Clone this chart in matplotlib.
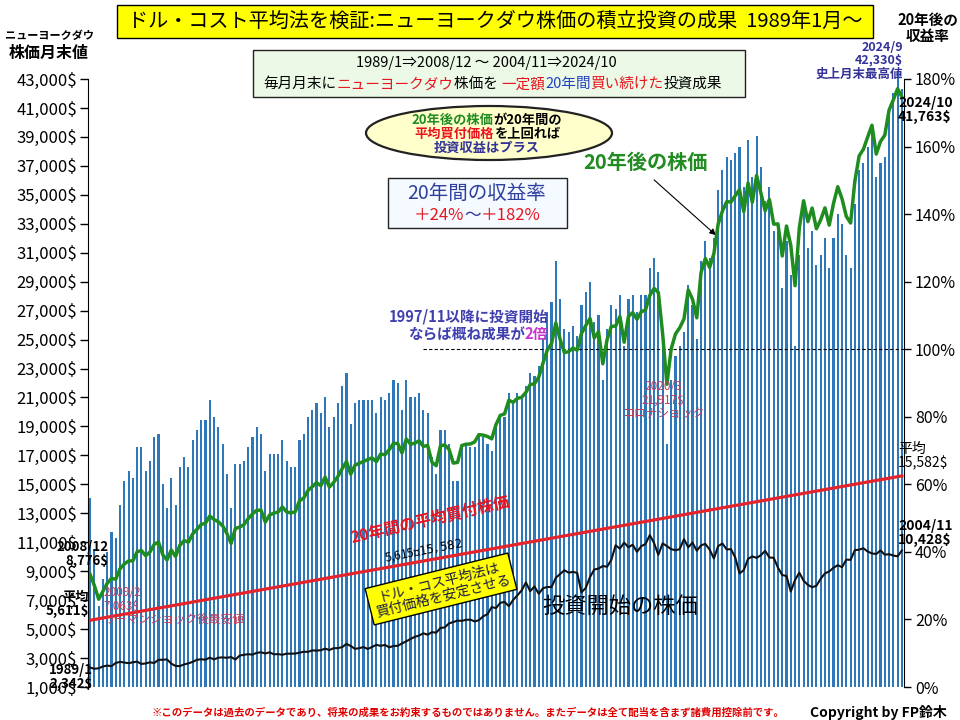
import matplotlib
matplotlib.use("Agg")
import matplotlib.pyplot as plt
from matplotlib.patches import Rectangle, Ellipse, FancyArrowPatch
import numpy as np

plt.rcParams['font.family'] = ['Noto Sans CJK JP', 'DejaVu Sans']

# ---- data: 20年後の株価 (2008/12 ~ 2024/10 月末値) ----
final_price = [8776,
    8001, 7063, 7609, 8168, 8500, 8447, 9172, 9496, 9712, 9713, 10345, 10428,
    10067, 10325, 10857, 11009, 10137, 9774, 10466, 10015, 10788, 11118, 11006, 11578,
    11892, 12226, 12320, 12811, 12570, 12414, 12143, 11614, 10913, 11955, 12046, 12218,
    12633, 12952, 13212, 13214, 12393, 12880, 13009, 13091, 13437, 13096, 13026, 13104,
    13861, 14054, 14579, 14840, 15116, 14910, 15500, 14810, 15130, 15546, 16086, 16577,
    15699, 16322, 16458, 16581, 16717, 16827, 16563, 17098, 17043, 17391, 17828, 17823,
    17165, 18133, 17776, 17841, 18011, 17620, 17690, 16528, 16285, 17664, 17720, 17425,
    16466, 16517, 17685, 17774, 17787, 17930, 18432, 18401, 18308, 18142, 19124, 19763,
    19864, 20812, 20663, 20941, 21009, 21350, 21891, 21948, 22405, 23377, 24272, 24719,
    26149, 25029, 24103, 24163, 24416, 24271, 25415, 25965, 26458, 25116, 25538, 23327,
    24999, 25916, 25929, 26593, 24815, 26600, 26864, 26403, 26917, 27046, 28051, 28538,
    28256, 25409, 21917, 24346, 25383, 25813, 26428, 28430, 27782, 26502, 29639, 30606,
    29983, 30932, 32982, 33875, 34529, 34503, 34935, 35361, 33844, 35820, 34484, 36338,
    35132, 33893, 34678, 32977, 32990, 30775, 32845, 31510, 28726, 32733, 34590, 33147,
    34086, 32657, 33274, 34098, 32908, 34408, 35560, 34722, 33508, 33053, 35951, 37690,
    38150, 38996, 39807, 37816, 38686, 39119, 40843, 41563, 42330, 41763]

# ---- 投資開始の株価 (1989/1 ~ 2004/11 月末値) ----
start_price = [
    2342, 2258, 2293, 2419, 2480, 2440, 2661, 2737, 2693, 2645, 2706, 2753,
    2591, 2627, 2707, 2657, 2877, 2881, 2905, 2614, 2453, 2442, 2560, 2634,
    2736, 2882, 2914, 2888, 3028, 2907, 3025, 3044, 3017, 3069, 2895, 3169,
    3224, 3268, 3236, 3359, 3397, 3319, 3394, 3257, 3272, 3226, 3306, 3301,
    3310, 3370, 3435, 3428, 3527, 3516, 3540, 3651, 3555, 3681, 3684, 3754,
    3978, 3832, 3636, 3682, 3758, 3625, 3765, 3913, 3843, 3908, 3739, 3834,
    3844, 4011, 4158, 4321, 4465, 4556, 4709, 4611, 4789, 4756, 5075, 5117,
    5395, 5486, 5588, 5569, 5643, 5655, 5529, 5616, 5882, 6029, 6522, 6448,
    6813, 6878, 6584, 7009, 7331, 7673, 8223, 7622, 7945, 7442, 7823, 7908,
    7907, 8546, 8800, 9063, 8900, 8952, 8883, 7539, 7843, 8592, 9117, 9181,
    9359, 9307, 9786, 10789, 10560, 10971, 10655, 10829, 10337, 10729, 10878, 11497,
    10941, 10128, 10922, 10734, 10522, 10448, 10522, 11215, 10651, 10971, 10415, 10787,
    10887, 10495, 9879, 10735, 10912, 10502, 10523, 9950, 8848, 9075, 9852, 10022,
    9920, 10106, 10404, 9946, 9925, 9243, 8737, 8664, 7592, 8397, 8896, 8342,
    8054, 7891, 7992, 8480, 8850, 8985, 9234, 9416, 9275, 9801, 9782, 10454,
    10488, 10584, 10358, 10226, 10188, 10435, 10140, 10174, 10080, 10027, 10428]

# ---- 20年後の収益率 (%) ----
returns = [
    56, 41, 24, 32, 40, 46, 44, 54,
    61, 64, 62, 71, 71, 64, 67, 74, 75, 60, 53, 62, 54, 65, 68, 65, 73, 76, 79, 79,
    85, 80, 77, 72, 63, 53, 66, 66, 67, 71, 74, 77, 75, 64, 69, 69, 69, 73, 67, 65,
    65, 73, 75, 80, 82, 84, 81, 86, 77, 80, 84, 89, 93,
    78, 84, 85, 85, 85, 85, 81, 86, 85, 87, 91, 90, 82, 91, 86, 86, 87, 82, 81, 68,
    63, 76, 76, 72, 61, 61, 72, 72, 71, 71, 75, 74, 72, 70, 78,
    80, 80, 87, 85, 87, 86, 89, 93, 92, 95, 103,
    111, 114, 126, 115, 106, 105, 107, 104, 113, 117, 120, 108, 110, 91,
    106, 113, 112, 116, 101, 115, 116, 111,
    116, 116, 124, 127, 123, 100, 72,
    91, 98, 101, 105, 119, 113, 103, 126, 132, 127, 133, 147, 153, 157, 156, 158,
    160, 148, 162, 151, 163, 154, 144, 148, 135, 135, 118, 132, 122, 101, 128, 141,
    130, 135, 125, 128, 133, 124, 133, 140,
    137, 128, 124, 143, 153, 155, 160, 165, 151, 155, 157,
    171, 176, 182, 177]

# ---- 20年間の平均買付株価 (年次読み取り) ----
avg_dates = ['2008/12', '2009/12', '2010/12', '2011/12', '2012/12', '2013/12',
             '2014/12', '2015/12', '2016/12', '2017/12', '2018/12', '2019/12',
             '2020/12', '2021/12', '2022/12', '2023/12', '2024/10']
avg_price = [5611, 6240, 6870, 7500, 8130, 8760, 9390, 10020, 10650, 11280,
             11910, 12540, 13170, 13800, 14430, 15060, 15582]

end_months = ['2008/12'] + [f"{y}/{m}" for y in range(2009, 2025) for m in range(1, 13)]
end_months = end_months[:len(final_price)]
x = np.arange(len(end_months))
avg_x = [end_months.index(d) for d in avg_dates]

W, H = 960, 720
def fx(v): return v / W
def fy(v): return 1 - v / H

fig = plt.figure(figsize=(9.6, 7.2), dpi=100)
ax = fig.add_axes([fx(88), fy(687), (904 - 88) / W, (687 - 62) / H])
ax2 = ax.twinx()
ax.set_zorder(2); ax2.set_zorder(1)
ax.patch.set_visible(False)

# bars: 収益率 (right axis)
ax2.bar(x, returns, width=0.5, color='#2E78BA', linewidth=0)
ax2.hlines(100, 78, 190.5, colors='black', linestyles=(0, (3, 2)), lw=0.8)

# lines (left axis)
ax.plot(x, final_price, color='#1E8C1E', lw=2.5, solid_joinstyle='round')
ax.plot(avg_x, avg_price, color='#E3242B', lw=2.3)
ax.plot(x, start_price, color='#111111', lw=1.5)

ax.set_xlim(-0.5, len(x) - 0.5)
ax.set_ylim(1000, 44176)
ax2.set_ylim(0, 185.03)
ax.set_yticks(range(1000, 43001, 2000))
ax.set_yticklabels([f"{v:,}$" for v in range(1000, 43001, 2000)], fontsize=12)
ax2.set_yticks(range(0, 181, 20))
ax2.set_yticklabels([f"{v}%" for v in range(0, 181, 20)], fontsize=11.5)
ax.tick_params(axis='y', length=6, width=1, pad=2)
ax2.tick_params(axis='y', length=5, width=1, pad=3)
ax.set_xticks([]); ax2.set_xticks([])
for s in ['top', 'bottom', 'right']:
    ax.spines[s].set_visible(False)
for s in ['top', 'bottom', 'left']:
    ax2.spines[s].set_visible(False)
ax.spines['left'].set_bounds(1000, 43000)
ax2.spines['right'].set_bounds(0, 180)

renderer = fig.canvas.get_renderer()

def multi(xc, yc, parts, size, weight='bold', ha='center'):
    # 色分けテキストを横に並べる
    base = yc + size * 100 / 72 * 0.36
    ts = [fig.text(0, fy(base), s, color=c, fontsize=size, fontweight=weight,
                   va='baseline') for s, c in parts]
    ws = [t.get_window_extent(renderer).width for t in ts]
    tot = sum(ws)
    x0 = xc - tot / 2 if ha == 'center' else (xc - tot if ha == 'right' else xc)
    for t, w in zip(ts, ws):
        t.set_x(fx(x0)); x0 += w

def box(x0, y0, x1, y1, fc, ec='#222222', lw=1.0):
    fig.add_artist(Rectangle((fx(x0), fy(y1)), (x1 - x0) / W, (y1 - y0) / H,
                             transform=fig.transFigure, facecolor=fc, edgecolor=ec, lw=lw))

navy = '#333399'; red = '#E8141E'; green = '#228B22'; crimson = '#C0405A'

# title
box(117, 5, 873, 38, '#FFFF00', 'black')
fig.text(fx(495), fy(21), 'ドル・コスト平均法を検証:ニューヨークダウ株価の積立投資の成果  1989年1月～',
         ha='center', va='center', fontsize=14.5)

fig.text(fx(49), fy(35), 'ニューヨークダウ', ha='center', va='center', fontsize=8, fontweight='bold')
fig.text(fx(49), fy(53), '株価月末値', ha='center', va='center', fontsize=11.5, fontweight='bold')
fig.text(fx(928), fy(20), '20年後の', ha='center', va='center', fontsize=10.5, fontweight='bold')
fig.text(fx(928), fy(36), '収益率', ha='center', va='center', fontsize=10.5, fontweight='bold')

# subtitle box
box(253, 50, 745, 97, '#EBF9E6')
fig.text(fx(486), fy(63), '1989/1⇒2008/12 ～ 2004/11⇒2024/10', ha='center', va='center', fontsize=10.5)
multi(493, 83, [('毎月月末に', 'black'), ('ニューヨークダウ', red), ('株価を ', 'black'),
                ('一定額', red), ('20年間', '#2040C0'), ('買い続けた', red), ('投資成果', 'black')],
      10.5, weight='normal')

# ellipse
fig.add_artist(Ellipse((fx(489), fy(133)), 246 / W, 54 / H, transform=fig.transFigure,
                       facecolor='#FFFFCC', edgecolor='#222222', lw=1.6))
multi(487, 119, [('20年後の株価', green), ('が20年間の', 'black')], 9.5)
multi(487, 133, [('平均買付価格', red), ('を上回れば', 'black')], 9.5)
multi(487, 147, [('投資収益はプラス', navy)], 9.5)

# return box
box(388, 178, 567, 228, '#F4FAFF')
fig.text(fx(477), fy(193), '20年間の収益率', ha='center', va='center', fontsize=14, color='#2E3F9E')
multi(477, 214, [('＋24%', red), ('～', navy), ('＋182%', red)], 12, weight='normal')

fig.text(fx(645), fy(162), '20年後の株価', ha='center', va='center', fontsize=14.5,
         fontweight='bold', color=green)
fig.add_artist(FancyArrowPatch((fx(652), fy(178)), (fx(718), fy(237)),
               transform=fig.transFigure, arrowstyle='-|>', mutation_scale=9, color='black', lw=0.8))

# 1997/11 note
fig.text(fx(548), fy(317), '1997/11以降に投資開始', ha='right', va='center', fontsize=10.5,
         fontweight='bold', color='#3F3FAF')
multi(548, 334, [('ならば概ね成果が', '#3F3FAF'), ('2倍', '#CC33CC')], 10.5, ha='right')

fig.text(fx(663), fy(400), '2020/3\n21,917$\nコロナショック', ha='center', va='center',
         fontsize=8.5, color=crimson, linespacing=1.05)
fig.text(fx(103), fy(606), '2009/2\n7,063$\nリーマンショック後最安値', ha='left', va='center',
         fontsize=8.5, color=crimson, linespacing=1.05)

# black labels
fig.text(fx(108), fy(554), '2008/12\n8,776$', ha='right', va='center', fontsize=9.5,
         fontweight='bold', linespacing=1.0)
fig.text(fx(89), fy(604), '平均\n5,611$', ha='right', va='center', fontsize=9.5,
         fontweight='bold', linespacing=1.0)
fig.text(fx(93), fy(677), '1989/1\n2,342$', ha='right', va='center', fontsize=9.5,
         fontweight='bold', linespacing=1.0)
fig.text(fx(898), fy(456), '平均\n15,582$', ha='left', va='center', fontsize=10, linespacing=1.0)
fig.text(fx(898), fy(533), '2004/11\n10,428$', ha='left', va='center', fontsize=10,
         fontweight='bold', linespacing=1.0)
fig.text(fx(898), fy(110), '2024/10\n41,763$', ha='left', va='center', fontsize=10,
         fontweight='bold', linespacing=1.0)
fig.text(fx(903), fy(61), '2024/9\n42,330$\n史上月末最高値', ha='right', va='center', fontsize=9,
         fontweight='bold', color=navy, linespacing=1.05, multialignment='right')

# rotated red line labels
fig.text(fx(430), fy(520), '20年間の平均買付株価', ha='center', va='center', fontsize=11.5,
         fontweight='bold', color=red, rotation=13)
fig.text(fx(424), fy(551), '5,615$～15,582$', ha='center', va='center', fontsize=8.5, rotation=11)
fig.text(fx(441), fy(589), 'ドル・コス平均法は\n買付価格を安定させる', ha='center', va='center',
         fontsize=10, color='#1A1A4A', rotation=14, linespacing=1.1,
         bbox=dict(boxstyle='square,pad=0.3', facecolor='#FFFF00', edgecolor='black', lw=1))

fig.text(fx(620), fy(606), '投資開始の株価', ha='center', va='center', fontsize=16)

# footnote
fig.text(fx(468), fy(712), '※このデータは過去のデータであり、将来の成果をお約束するものではありません。またデータは全て配当を含まず諸費用控除前です。',
         ha='center', va='center', fontsize=7.5, color='#E00000', fontweight='bold')
fig.text(fx(878), fy(712), 'Copyright by FP鈴木', ha='center', va='center', fontsize=10,
         fontweight='bold')

fig.savefig('out.png', dpi=100, facecolor='white')
